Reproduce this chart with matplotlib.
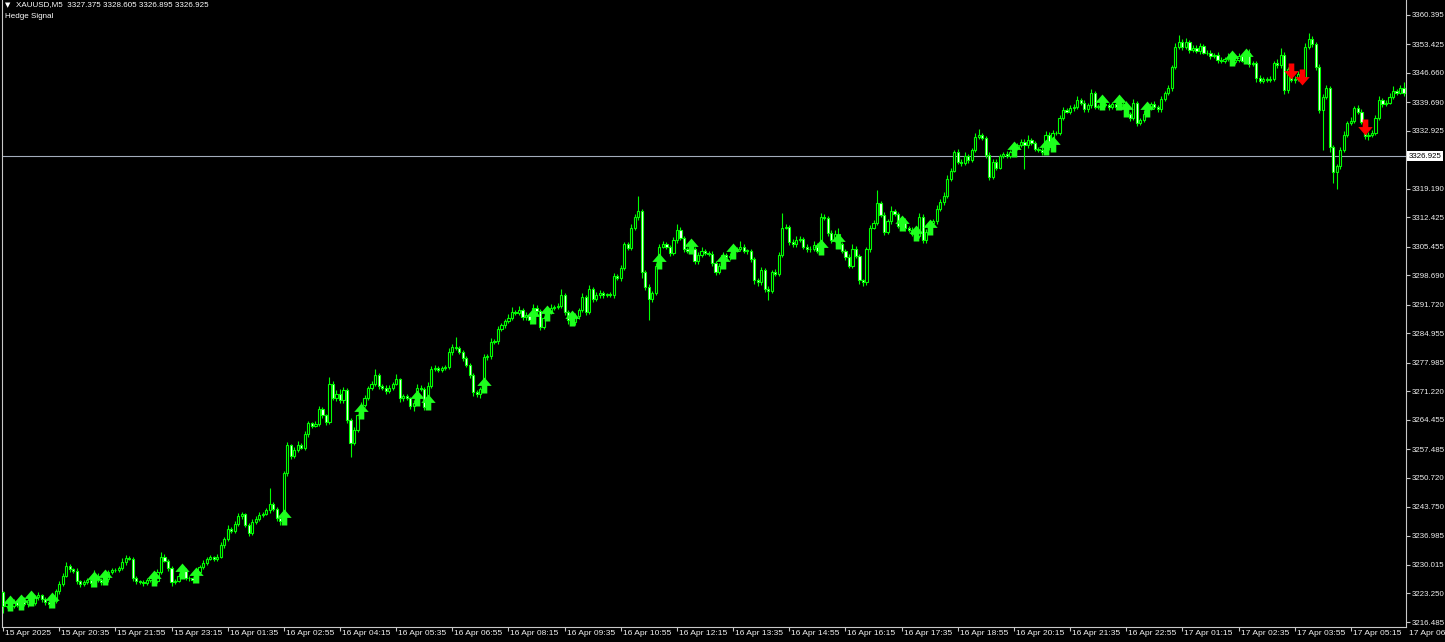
import numpy as np
import matplotlib.pyplot as plt
from matplotlib.transforms import ScaledTranslation, blended_transform_factory

plt.rcParams['font.family'] = ['Liberation Sans', 'DejaVu Sans']

# M5 XAUUSD bars, open of each bar = close of the bar before
first_open = 3223.5
close = [
    3220.2, 3221.0, 3220.3, 3221.2, 3220.6, 3221.5, 3220.8, 3221.8, 3221.0, 3222.3,
    3222.8, 3222.0, 3221.2, 3220.7, 3221.5, 3223.8, 3225.5, 3227.5, 3229.8, 3229.0,
    3228.5, 3226.2, 3225.5, 3226.0, 3226.4, 3225.8, 3227.5, 3226.5, 3226.0, 3226.6,
    3228.4, 3228.7, 3228.9, 3229.2, 3230.8, 3231.6, 3231.5, 3226.8, 3226.2, 3226.0,
    3225.7, 3226.4, 3226.8, 3226.2, 3228.4, 3231.8, 3231.0, 3229.3, 3226.0, 3226.3,
    3227.5, 3228.6, 3227.0, 3226.8, 3226.5, 3228.4, 3229.6, 3230.5, 3231.5, 3231.8,
    3231.5, 3232.0, 3234.8, 3236.2, 3238.5, 3238.0, 3239.8, 3241.5, 3242.0, 3239.6,
    3237.6, 3240.2, 3241.0, 3241.8, 3242.2, 3243.0, 3244.5, 3243.3, 3241.2, 3240.5,
    3251.8, 3258.4, 3255.8, 3257.3, 3258.5, 3257.8, 3261.0, 3263.6, 3263.0, 3263.4,
    3267.0, 3265.5, 3264.0, 3273.0, 3269.7, 3270.5, 3269.0, 3271.6, 3264.4, 3259.0,
    3262.0, 3265.5, 3268.0, 3269.5, 3272.0, 3273.0, 3275.0, 3272.5, 3272.0, 3271.3,
    3272.0, 3273.0, 3274.0, 3269.5, 3270.0, 3269.5, 3267.8, 3268.5, 3272.0, 3271.8,
    3267.5, 3272.5, 3276.5, 3276.8, 3276.3, 3276.6, 3277.0, 3280.5, 3281.8, 3281.5,
    3280.5, 3279.0, 3277.5, 3275.0, 3271.0, 3270.5, 3271.8, 3279.2, 3279.5, 3282.8,
    3283.0, 3286.0, 3287.0, 3287.8, 3288.5, 3290.0, 3289.8, 3290.5, 3288.8, 3289.3,
    3288.0, 3291.0, 3290.2, 3286.5, 3288.5, 3290.0, 3291.0, 3291.2, 3291.5, 3294.0,
    3290.0, 3288.0, 3287.5, 3289.0, 3290.5, 3293.5, 3290.0, 3295.5, 3293.0, 3294.0,
    3294.5, 3294.0, 3294.2, 3294.0, 3298.5, 3298.0, 3300.5, 3306.0, 3305.2, 3310.0,
    3312.5, 3314.0, 3299.5, 3296.0, 3293.0, 3294.5, 3301.0, 3305.5, 3306.0, 3305.5,
    3304.0, 3307.0, 3309.5, 3307.5, 3305.0, 3304.5, 3305.0, 3302.0, 3303.5, 3304.5,
    3304.0, 3303.8, 3301.5, 3299.5, 3301.0, 3303.5, 3303.0, 3303.3, 3304.5, 3305.0,
    3305.5, 3304.5, 3304.5, 3302.5, 3297.5, 3297.0, 3300.0, 3295.5, 3295.0, 3299.5,
    3299.0, 3303.5, 3310.0, 3310.2, 3306.5, 3306.0, 3307.0, 3307.3, 3305.5, 3304.8,
    3305.0, 3305.8, 3304.5, 3312.5, 3312.3, 3308.8, 3307.0, 3308.5, 3306.0, 3304.5,
    3303.0, 3301.0, 3305.0, 3303.3, 3297.5, 3297.0, 3304.8, 3310.0, 3311.0, 3315.8,
    3313.0, 3309.0, 3311.5, 3314.0, 3313.2, 3310.3, 3311.5, 3309.8, 3309.5, 3308.5,
    3308.0, 3312.5, 3307.0, 3309.0, 3311.0, 3311.5, 3314.5, 3316.0, 3317.6, 3321.6,
    3323.5, 3327.9, 3325.6, 3325.4, 3327.0, 3326.0, 3328.3, 3331.5, 3331.9, 3331.2,
    3327.2, 3322.0, 3325.5, 3324.2, 3327.0, 3327.5, 3327.0, 3327.8, 3328.8, 3329.5,
    3330.3, 3329.5, 3330.7, 3330.0, 3328.7, 3328.5, 3328.0, 3332.0, 3329.0, 3332.3,
    3332.5, 3336.0, 3337.9, 3337.5, 3338.3, 3338.6, 3340.2, 3339.5, 3338.0, 3339.0,
    3341.8, 3338.5, 3338.8, 3339.4, 3339.0, 3338.5, 3339.2, 3338.5, 3339.0, 3339.2,
    3337.0, 3336.0, 3339.5, 3334.8, 3335.5, 3337.0, 3338.5, 3339.3, 3338.5, 3338.0,
    3340.5, 3341.8, 3343.0, 3348.0, 3352.8, 3354.0, 3352.8, 3354.0, 3352.0, 3352.6,
    3351.8, 3353.0, 3351.5, 3351.4, 3350.6, 3350.8, 3349.8, 3349.5, 3350.0, 3350.5,
    3349.3, 3349.8, 3350.6, 3349.6, 3351.3, 3348.8, 3349.0, 3345.5, 3344.8, 3345.2,
    3345.0, 3345.3, 3349.0, 3348.5, 3351.0, 3342.5, 3347.5, 3345.0, 3345.2, 3346.5,
    3345.8, 3352.8, 3354.8, 3353.5, 3348.0, 3337.9, 3341.0, 3343.0, 3329.0, 3323.2,
    3324.5, 3328.4, 3332.0, 3334.8, 3335.2, 3338.3, 3337.5, 3335.0, 3331.6, 3332.0,
    3332.5, 3336.0, 3340.2, 3339.3, 3339.6, 3341.0, 3342.3, 3342.0, 3343.0, 3342.0,
]
wick_up = [
    0.3, 0.6, 0.4, 0.8, 0.3, 0.5, 0.9, 0.4, 0.6, 0.5, 0.7, 0.3, 0.4, 0.6, 0.5, 0.4, 0.8, 0.6, 0.9, 0.5,
    0.4, 0.7, 0.3, 0.5, 0.6, 0.4, 1.4, 0.5, 0.3, 0.6, 0.4, 0.5, 0.3, 0.6, 0.9, 0.8, 0.5, 0.4, 0.6, 0.3,
    0.5, 0.4, 0.7, 0.3, 0.6, 1.3, 0.9, 0.5, 0.4, 0.3, 0.6, 0.5, 0.7, 0.4, 0.3, 0.8, 0.5, 0.6, 0.4, 0.5,
    0.3, 0.6, 0.7, 0.5, 0.9, 0.4, 0.6, 0.8, 0.5, 0.4, 0.3, 0.6, 0.5, 0.7, 0.4, 0.6, 3.8, 0.5, 0.4, 0.3,
    0.5, 0.7, 0.4, 0.6, 0.9, 0.5, 0.8, 0.6, 0.4, 0.7, 0.8, 0.5, 0.4, 1.6, 0.6, 0.9, 1.2, 0.7, 0.4, 0.5,
    0.6, 0.4, 0.7, 0.8, 0.5, 0.6, 1.5, 0.5, 0.4, 0.6, 0.7, 0.5, 1.3, 0.4, 0.6, 0.5, 0.3, 0.7, 1.0, 0.6,
    0.4, 0.8, 0.6, 0.5, 0.4, 0.6, 0.5, 0.9, 0.7, 2.3, 0.5, 0.4, 0.6, 0.3, 0.5, 0.6, 0.4, 0.8, 0.6, 0.9,
    0.5, 0.7, 0.4, 0.6, 0.9, 1.2, 0.5, 0.8, 0.4, 0.6, 0.5, 0.9, 0.7, 0.4, 0.5, 0.6, 0.8, 0.5, 0.7, 1.4,
    0.6, 0.5, 0.4, 0.7, 0.5, 0.9, 0.6, 1.0, 0.5, 0.7, 0.6, 0.5, 0.4, 0.6, 0.8, 0.5, 0.7, 0.6, 0.5, 0.9,
    0.8, 3.5, 0.5, 0.4, 0.6, 0.5, 0.7, 0.6, 0.9, 0.5, 0.4, 0.8, 1.4, 0.6, 0.5, 0.4, 0.7, 0.5, 0.6, 0.9,
    0.5, 0.4, 0.6, 0.5, 0.7, 0.8, 0.5, 0.6, 0.9, 0.5, 1.2, 0.6, 0.4, 0.5, 0.6, 0.5, 0.7, 0.4, 0.6, 0.5,
    0.6, 0.7, 3.5, 0.6, 0.5, 0.8, 0.9, 0.6, 0.5, 0.7, 0.6, 1.0, 0.5, 1.0, 0.8, 0.5, 0.6, 0.9, 1.5, 0.6,
    0.5, 0.8, 1.0, 0.6, 0.5, 0.4, 0.7, 0.6, 0.8, 3.0, 0.5, 0.7, 0.6, 1.1, 0.5, 0.6, 0.4, 0.8, 0.5, 0.6,
    0.5, 0.9, 0.6, 0.7, 0.5, 0.6, 0.8, 0.7, 0.9, 0.8, 0.6, 0.5, 0.7, 0.6, 0.8, 0.5, 0.6, 0.9, 1.5, 0.6,
    0.5, 0.6, 0.7, 0.8, 0.5, 0.4, 0.6, 0.5, 0.7, 0.6, 0.8, 0.6, 1.2, 0.5, 0.6, 0.4, 0.5, 0.9, 0.6, 0.8,
    0.5, 0.7, 0.6, 0.5, 0.8, 0.6, 0.9, 0.5, 0.7, 0.6, 1.1, 0.5, 0.6, 0.4, 0.7, 0.5, 0.6, 0.8, 0.5, 0.6,
    0.7, 0.5, 0.9, 0.6, 0.5, 0.8, 0.6, 0.5, 0.7, 0.6, 0.8, 0.5, 0.7, 0.6, 0.9, 1.7, 0.6, 1.0, 0.5, 0.7,
    0.6, 0.8, 0.5, 0.7, 0.6, 0.5, 0.8, 0.6, 0.5, 0.9, 0.6, 1.2, 0.8, 0.6, 0.9, 1.0, 0.6, 0.5, 0.7, 0.6,
    0.5, 0.7, 0.6, 0.9, 1.6, 0.7, 0.6, 1.3, 0.8, 0.6, 0.7, 0.9, 1.3, 0.6, 0.5, 0.8, 0.7, 0.9, 0.6, 0.5,
    0.6, 0.7, 0.8, 0.5, 0.9, 0.6, 0.8, 0.7, 0.5, 0.6, 0.7, 0.8, 1.0, 0.6, 0.7, 0.9, 1.3, 0.6, 0.8, 1.5,
]
wick_dn = [
    1.5, 0.5, 0.8, 0.4, 0.6, 0.9, 0.5, 0.7, 0.4, 0.6, 0.5, 0.8, 0.6, 0.9, 0.5, 0.4, 0.6, 0.5, 0.4, 0.7,
    0.5, 0.6, 0.8, 0.4, 0.5, 0.9, 0.6, 0.5, 0.7, 0.4, 0.6, 0.5, 0.4, 0.6, 0.5, 0.7, 0.4, 0.6, 0.8, 0.5,
    0.6, 0.5, 0.4, 0.8, 0.5, 0.6, 0.4, 0.7, 0.9, 0.5, 0.4, 0.6, 0.5, 0.7, 0.8, 0.5, 0.4, 0.6, 0.5, 0.4,
    0.6, 0.5, 0.4, 0.7, 0.6, 0.5, 0.4, 0.6, 0.5, 0.7, 0.8, 0.5, 0.4, 0.6, 0.5, 0.4, 0.6, 0.5, 0.7, 0.9,
    0.8, 0.6, 0.7, 0.5, 0.6, 0.4, 0.5, 0.7, 0.6, 0.4, 0.5, 0.6, 0.8, 0.5, 0.7, 0.9, 0.6, 0.5, 0.7, 3.4,
    0.6, 0.5, 0.7, 0.6, 0.4, 0.5, 0.6, 0.8, 0.5, 0.7, 0.6, 0.5, 0.4, 0.9, 0.6, 0.5, 0.7, 1.3, 0.6, 0.5,
    0.8, 0.5, 0.6, 0.4, 0.5, 0.6, 0.4, 0.5, 0.6, 0.5, 0.4, 0.6, 0.5, 0.7, 0.9, 0.6, 0.8, 0.7, 0.5, 0.6,
    0.4, 0.5, 0.6, 0.7, 0.5, 0.4, 0.6, 0.5, 0.7, 0.6, 0.9, 0.5, 0.6, 0.8, 0.5, 0.4, 0.6, 0.5, 0.4, 0.6,
    0.7, 0.9, 0.6, 0.5, 0.7, 0.6, 0.8, 0.5, 0.6, 0.5, 0.7, 0.6, 0.5, 0.4, 0.6, 0.5, 0.7, 0.6, 0.5, 0.6,
    0.5, 0.6, 1.5, 0.8, 4.9, 0.7, 0.6, 0.5, 0.4, 0.6, 0.7, 0.5, 0.6, 0.5, 0.8, 0.6, 0.5, 0.7, 0.6, 0.5,
    0.4, 0.6, 0.5, 0.8, 0.6, 0.5, 0.4, 0.6, 0.5, 0.4, 0.6, 0.5, 0.7, 0.6, 0.8, 0.9, 0.5, 0.7, 2.2, 0.6,
    0.5, 0.6, 0.5, 0.4, 0.6, 0.5, 0.7, 0.4, 0.6, 0.5, 0.7, 0.6, 0.5, 0.6, 0.5, 0.7, 0.6, 0.5, 0.8, 0.6,
    0.7, 0.6, 0.5, 0.4, 0.8, 0.9, 0.5, 0.6, 0.4, 0.5, 0.6, 0.7, 0.5, 0.6, 0.4, 0.5, 0.7, 0.6, 0.5, 0.6,
    0.8, 0.5, 0.7, 0.6, 0.5, 0.4, 0.6, 0.5, 0.7, 0.6, 0.5, 0.4, 0.6, 0.7, 0.5, 0.6, 0.5, 0.4, 0.6, 0.5,
    0.6, 0.7, 0.5, 0.6, 0.4, 0.5, 0.6, 0.5, 0.7, 0.4, 0.5, 5.5, 0.6, 0.4, 0.5, 0.6, 0.8, 0.5, 0.6, 0.7,
    0.4, 0.5, 0.6, 0.4, 0.5, 0.6, 0.5, 0.4, 0.7, 0.5, 0.6, 0.4, 0.5, 0.6, 0.4, 0.7, 0.5, 0.6, 0.4, 0.5,
    0.6, 0.8, 0.5, 0.7, 0.6, 0.5, 0.4, 0.6, 0.5, 0.7, 0.6, 0.5, 0.4, 0.6, 0.5, 0.4, 0.6, 0.5, 0.7, 0.4,
    0.5, 0.6, 0.4, 0.5, 0.6, 0.5, 0.7, 0.4, 0.6, 0.5, 0.8, 0.6, 0.5, 0.4, 0.6, 0.7, 0.5, 1.0, 0.6, 0.5,
    0.4, 0.6, 0.5, 0.7, 0.6, 0.8, 0.5, 0.6, 0.7, 0.5, 0.6, 0.5, 0.4, 0.6, 0.7, 0.8, 9.5, 0.6, 1.0, 2.6,
    4.0, 0.7, 0.5, 0.6, 0.4, 0.5, 0.6, 0.5, 0.7, 0.9, 0.6, 0.5, 0.4, 0.6, 0.5, 0.4, 0.6, 0.5, 0.4, 0.7,
]

# bars carrying a "Hedge Signal" arrow
buy_bars = [2, 5, 8, 14, 26, 29, 43, 51, 55, 80, 102, 118, 121, 137, 151, 155, 162, 187,
            196, 205, 208, 233, 238, 256, 260, 264, 288, 297, 299, 313, 318, 320, 326, 350, 354]
sell_bars = [367, 370, 388]

price_ticks = [3360.395, 3353.425, 3346.660, 3339.690, 3332.925, 3319.190, 3312.425,
               3305.455, 3298.690, 3291.720, 3284.955, 3277.985, 3271.220, 3264.455,
               3257.485, 3250.720, 3243.750, 3236.985, 3230.015, 3223.250, 3216.485]
time_labels = ['15 Apr 2025', '15 Apr 20:35', '15 Apr 21:55', '15 Apr 23:15', '16 Apr 01:35',
               '16 Apr 02:55', '16 Apr 04:15', '16 Apr 05:35', '16 Apr 06:55', '16 Apr 08:15',
               '16 Apr 09:35', '16 Apr 10:55', '16 Apr 12:15', '16 Apr 13:35', '16 Apr 14:55',
               '16 Apr 16:15', '16 Apr 17:35', '16 Apr 18:55', '16 Apr 20:15', '16 Apr 21:35',
               '16 Apr 22:55', '17 Apr 01:15', '17 Apr 02:35', '17 Apr 03:55', '17 Apr 05:15',
               '17 Apr 06:35']
last_price = 3326.925
header = 'XAUUSD,M5  3327.375 3328.605 3326.895 3326.925'

n = min(len(close), len(wick_up), len(wick_dn))
c = np.array(close[:n])
o = np.concatenate([[first_open], c[:-1]])
hi = np.maximum(o, c) + np.array(wick_up[:n])
lo = np.minimum(o, c) - np.array(wick_dn[:n])
x = np.arange(n)

green = '#00ff00'
grey = '#c8c8c8'
fs = 5.7

fig = plt.figure(figsize=(14.45, 6.42), dpi=100, facecolor='black')
ax = fig.add_axes([2 / 1445, 15 / 642, 1404 / 1445, 627 / 642])
ax.set_facecolor('black')

ax.axhline(last_price, color='#a3acbb', lw=0.8, zorder=1)

# candles
ax.vlines(x, lo, hi, color=green, lw=0.8, zorder=2)
bull = c >= o
body_lo = np.minimum(o, c)
body_h = np.maximum(np.abs(c - o), 0.1)
ax.bar(x[bull], body_h[bull], bottom=body_lo[bull], width=0.62, color='black',
       edgecolor=green, lw=0.8, zorder=3)
ax.bar(x[~bull], body_h[~bull], bottom=body_lo[~bull], width=0.62, color='white',
       edgecolor=green, lw=0.8, zorder=3)

# signal arrows
up_arrow = [(0, 2), (-0.9, 0.95), (-0.35, 0.95), (-0.35, 0), (0.35, 0), (0.35, 0.95),
            (0.9, 0.95), (0, 2)]
down_arrow = [(vx, -vy) for vx, vy in up_arrow]
bb = [b for b in buy_bars if b < n]
sb = [b for b in sell_bars if b < n]
ax.plot(x[bb], lo[bb] - 0.3, ls='none', marker=up_arrow, ms=23, color='#1eff1e', mew=0,
        zorder=4)
ax.plot(x[sb], hi[sb] + 0.3, ls='none', marker=down_arrow, ms=23, color='#ff0000', mew=0,
        zorder=4)

ax.set_xlim(-0.29, 399.7)
ax.set_ylim(3215.3, 3363.95)

for side in ['left', 'right', 'bottom']:
    ax.spines[side].set_color(grey)
    ax.spines[side].set_linewidth(0.8)
ax.spines['top'].set_visible(False)

# price scale on the right
ax.yaxis.tick_right()
ax.set_yticks(price_ticks)
ax.set_yticklabels([f'{v:.3f}' for v in price_ticks])
ax.tick_params(axis='y', direction='out', length=3, width=0.8, color=grey,
               labelcolor='#eeeeee', labelsize=fs, pad=1.5)

# time scale
tick_pos = [16 * k for k in range(len(time_labels))]
ax.set_xticks([p for p in tick_pos if p <= 399])
ax.set_xticklabels([])
ax.tick_params(axis='x', direction='out', length=3, width=0.8, color=grey)
xtrans = ax.get_xaxis_transform() + ScaledTranslation(2 / 100, 0, fig.dpi_scale_trans)
for p, lab in zip(tick_pos, time_labels):
    ax.text(p, -0.0105, lab, transform=xtrans, ha='left', va='center', fontsize=6.1,
            color='#eeeeee', clip_on=False)

# current price box
ptrans = blended_transform_factory(ax.transAxes, ax.transData) + \
    ScaledTranslation(3 / 100, 0, fig.dpi_scale_trans)
ax.text(1.0, last_price, f'{last_price:.3f}', transform=ptrans, ha='left', va='center',
        fontsize=fs, color='black', zorder=6, clip_on=False,
        bbox=dict(boxstyle='square,pad=0.2', fc='white', ec='none'))

# header
fig.text(5 / 1445, 1 - 5 / 642, '\u25bc', fontsize=5, color='white', va='center', ha='left',
         family=['DejaVu Sans'])
fig.text(16 / 1445, 1 - 5 / 642, header, fontsize=5.8, color='white', va='center', ha='left')
fig.text(5 / 1445, 1 - 16 / 642, 'Hedge Signal', fontsize=5.8, color='white', va='center',
         ha='left')

fig.savefig('out.png', dpi=100, facecolor='black')
